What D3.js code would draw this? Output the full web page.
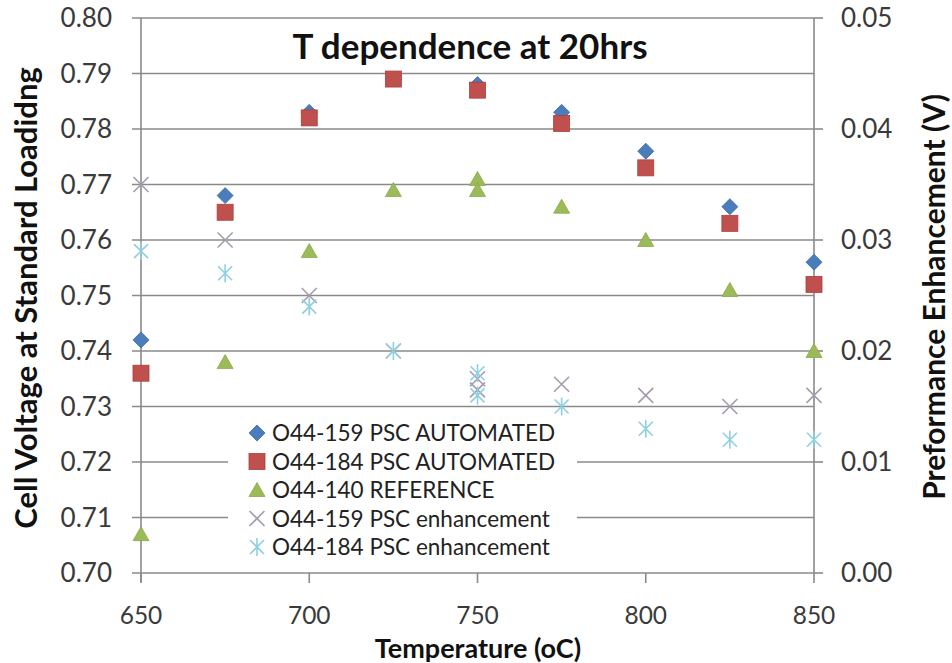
<!DOCTYPE html>
<html>
<head>
<meta charset="utf-8">
<script src="https://cdn.jsdelivr.net/npm/d3@7"></script>
<style>
  html, body { margin: 0; padding: 0; background: #fff; }
  svg { display: block; font-family: Lato, "Open Sans", sans-serif; }
</style>
</head>
<body>
<svg id="chart" width="952" height="663"></svg>
<script>
// ---- data ----
const chartTitle = "T dependence at 20hrs";
const xTicks = [650, 700, 750, 800, 850];
const yLeftTicks = [0.70, 0.71, 0.72, 0.73, 0.74, 0.75, 0.76, 0.77, 0.78, 0.79, 0.80];
const yRightTicks = [0.00, 0.01, 0.02, 0.03, 0.04, 0.05];

const tempsA = [650, 675, 700, 725, 750, 775, 800, 825, 850];
const psc159Automated = [0.742, 0.768, 0.783, 0.789, 0.788, 0.783, 0.776, 0.766, 0.756];
const psc184Automated = [0.736, 0.765, 0.782, 0.789, 0.787, 0.781, 0.773, 0.763, 0.752];

const tempsB = [650, 675, 700, 725, 750, 750, 775, 800, 825, 850];
const reference140 = [0.707, 0.738, 0.758, 0.769, 0.771, 0.769, 0.766, 0.760, 0.751, 0.740];
const psc159Enh = [0.035, 0.030, 0.025, 0.020, 0.0175, 0.0165, 0.017, 0.016, 0.015, 0.016];
const psc184Enh = [0.029, 0.027, 0.024, 0.020, 0.018, 0.016, 0.015, 0.013, 0.012, 0.012];

const seriesNames = [
  "O44-159 PSC AUTOMATED",
  "O44-184 PSC AUTOMATED",
  "O44-140 REFERENCE",
  "O44-159 PSC enhancement",
  "O44-184 PSC enhancement"
];

// ---- layout ----
const svg = d3.select("#chart");
const L = 141, R = 814, T = 18, B = 573;
const gridColor = "#8a8a8a";

const x = d3.scaleLinear().domain([650, 850]).range([L, R]);
const yL = d3.scaleLinear().domain([0.70, 0.80]).range([B, T]);
const yR = d3.scaleLinear().domain([0.00, 0.05]).range([B, T]);

// gridlines (with left tick extension)
svg.append("g").selectAll("line").data(yLeftTicks).join("line")
  .attr("x1", L - 9).attr("x2", R)
  .attr("y1", d => yL(d)).attr("y2", d => yL(d))
  .attr("stroke", gridColor).attr("stroke-width", 1.6);

// left axis line
svg.append("line").attr("x1", L).attr("x2", L).attr("y1", T).attr("y2", B + 9)
  .attr("stroke", gridColor).attr("stroke-width", 1.6);
// right axis line
svg.append("line").attr("x1", R).attr("x2", R).attr("y1", T).attr("y2", B)
  .attr("stroke", gridColor).attr("stroke-width", 1.6);

// right axis ticks
svg.append("g").selectAll("line").data(yRightTicks).join("line")
  .attr("x1", R).attr("x2", R + 9)
  .attr("y1", d => yR(d)).attr("y2", d => yR(d))
  .attr("stroke", gridColor).attr("stroke-width", 1.6);

// bottom ticks
svg.append("g").selectAll("line").data(xTicks).join("line")
  .attr("x1", d => x(d)).attr("x2", d => x(d))
  .attr("y1", B).attr("y2", B + 10)
  .attr("stroke", gridColor).attr("stroke-width", 1.6);

// tick labels
const tickFont = 26;
svg.append("g").selectAll("text").data(yLeftTicks).join("text")
  .attr("x", 112).attr("y", d => yL(d))
  .attr("dy", "0.36em").attr("text-anchor", "end")
  .attr("font-size", tickFont).attr("fill", "#3a3a3a")
  .text(d => d3.format(".2f")(d));

svg.append("g").selectAll("text").data(yRightTicks).join("text")
  .attr("x", 841).attr("y", d => yR(d))
  .attr("dy", "0.36em").attr("text-anchor", "start")
  .attr("font-size", tickFont).attr("fill", "#3a3a3a")
  .text(d => d3.format(".2f")(d));

svg.append("g").selectAll("text").data(xTicks).join("text")
  .attr("x", d => x(d)).attr("y", 624)
  .attr("text-anchor", "middle")
  .attr("font-size", 24.5).attr("fill", "#3a3a3a")
  .text(d => d);

// axis titles
svg.append("text").attr("x", 478).attr("y", 658)
  .attr("text-anchor", "middle").attr("font-size", 27).attr("font-weight", "bold")
  .attr("fill", "#111").text("Temperature (oC)");

svg.append("text").attr("transform", "translate(26,298) rotate(-90)")
  .attr("dy", "0.36em").attr("text-anchor", "middle")
  .attr("font-size", 31).attr("font-weight", "bold").attr("fill", "#111")
  .text("Cell Voltage at Standard Loadidng");

svg.append("text").attr("transform", "translate(934,297) rotate(-90)")
  .attr("dy", "0.36em").attr("text-anchor", "middle")
  .attr("font-size", 30).attr("font-weight", "bold").attr("fill", "#111")
  .text("Preformance Enhancement (V)");

// title
svg.append("text").attr("x", 470).attr("y", 46).attr("dy", "0.36em")
  .attr("text-anchor", "middle").attr("font-size", 35).attr("font-weight", "bold")
  .attr("fill", "#111").text(chartTitle);

// ---- markers ----
const colors = ["#4a7ebb", "#c0504d", "#9bbb59", "#a49cae", "#8fcfe0"];
const strokes = ["#3d6aa3", "#a8403d", "#89a84c", "#a49cae", "#8fcfe0"];

function drawMarker(g, kind, cx, cy) {
  if (kind === 0) {
    g.append("path").attr("d", `M${cx},${cy-8} L${cx+8},${cy} L${cx},${cy+8} L${cx-8},${cy} Z`)
      .attr("fill", colors[0]).attr("stroke", strokes[0]).attr("stroke-width", 0.8);
  } else if (kind === 1) {
    g.append("rect").attr("x", cx - 8).attr("y", cy - 8).attr("width", 16).attr("height", 16)
      .attr("fill", colors[1]).attr("stroke", strokes[1]).attr("stroke-width", 0.8);
  } else if (kind === 2) {
    g.append("path").attr("d", `M${cx},${cy-7.5} L${cx+8},${cy+6.5} L${cx-8},${cy+6.5} Z`)
      .attr("fill", colors[2]).attr("stroke", strokes[2]).attr("stroke-width", 0.8);
  } else if (kind === 3) {
    g.append("path").attr("d", `M${cx-7.5},${cy-7.5} L${cx+7.5},${cy+7.5} M${cx+7.5},${cy-7.5} L${cx-7.5},${cy+7.5}`)
      .attr("stroke", colors[3]).attr("stroke-width", 1.6).attr("fill", "none");
  } else {
    g.append("path").attr("d", `M${cx-7},${cy-7} L${cx+7},${cy+7} M${cx+7},${cy-7} L${cx-7},${cy+7} M${cx},${cy-9} L${cx},${cy+9}`)
      .attr("stroke", colors[4]).attr("stroke-width", 1.6).attr("fill", "none");
  }
}

const seriesDefs = [
  { xs: tempsA, ys: psc159Automated, scale: yL },
  { xs: tempsA, ys: psc184Automated, scale: yL },
  { xs: tempsB, ys: reference140, scale: yL },
  { xs: tempsB, ys: psc159Enh, scale: yR },
  { xs: tempsB, ys: psc184Enh, scale: yR }
];

// legend background (drawn over gridlines)
const legX = 228, legY = 414, legW = 349, legH = 146;
svg.append("rect").attr("x", legX).attr("y", legY).attr("width", legW).attr("height", legH)
  .attr("fill", "#fff");

const pts = svg.append("g");
seriesDefs.forEach((s, k) => {
  s.xs.forEach((t, i) => drawMarker(pts, k, x(t), s.scale(s.ys[i])));
});

// legend entries
const leg = svg.append("g");
seriesNames.forEach((name, k) => {
  const cy = 433 + k * 28.5;
  drawMarker(leg, k, 257, cy);
  leg.append("text").attr("x", 272).attr("y", cy).attr("dy", "0.36em")
    .attr("font-size", 22.5).attr("fill", "#222").text(name);
});
</script>
</body>
</html>
